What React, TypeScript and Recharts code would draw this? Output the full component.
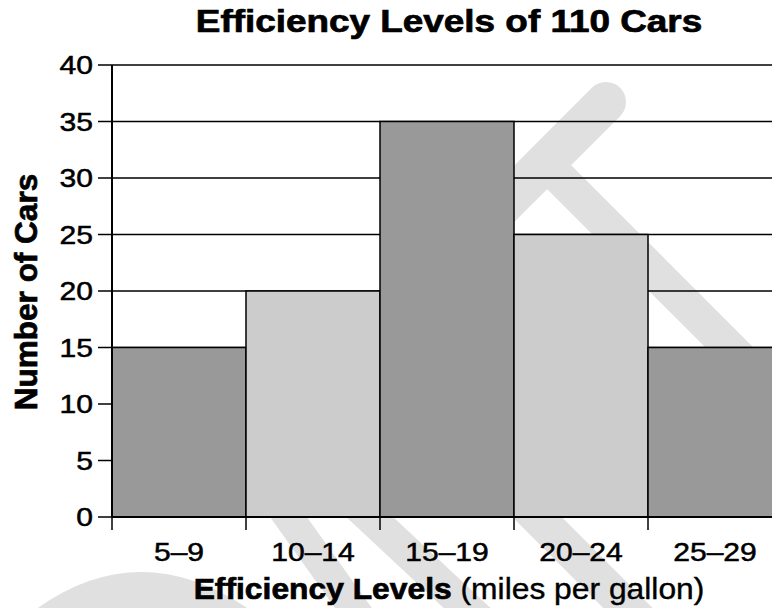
import React from "react"
import { Bar, BarChart, CartesianGrid, Cell, XAxis, YAxis } from "recharts"

const ranges = ["5–9", "10–14", "15–19", "20–24", "25–29"]
const carCounts = [15, 20, 35, 25, 15]
const yTicks = [0, 5, 10, 15, 20, 25, 30, 35, 40]

const data = ranges.map((range, i) => ({ range, cars: carCounts[i] }))

const FONT = "'Liberation Sans', Arial, Helvetica, sans-serif"
const DARK = "#999999"
const LIGHT = "#cccccc"
const MARK = "#e0e0e0"

const CHART_W = 790
const CHART_H = 608
const MARGIN = { top: 65, right: 8, bottom: 0, left: 0 }
const Y_AXIS_W = 112
const X_AXIS_H = 91
const X_TICK = 13
const BAND_HALF = (CHART_W - MARGIN.left - MARGIN.right - Y_AXIS_W) / ranges.length / 2

function YTick({ x, y, payload }: any) {
  return (
    <text
      transform={`translate(${x},${y + 9}) scale(1.18,1)`}
      textAnchor="end"
      fontFamily={FONT}
      fontSize={25.5}
      fill="#000"
      stroke="#000"
      strokeWidth={0.5}
    >
      {payload.value}
    </text>
  )
}

function XTick({ x, y, payload }: any) {
  const half = payload.offset || BAND_HALF
  const axisY = y - X_TICK
  return (
    <g>
      <line x1={x - half} x2={x - half} y1={axisY} y2={axisY + X_TICK} stroke="#000" strokeWidth={1.5} />
      <text
        transform={`translate(${x},${axisY + 44}) scale(1.18,1)`}
        textAnchor="middle"
        fontFamily={FONT}
        fontSize={25.5}
        fill="#000"
        stroke="#000"
        strokeWidth={0.5}
      >
        {payload.value}
      </text>
    </g>
  )
}

// faint watermark + titles, drawn under the (transparent) chart svg
function Backdrop() {
  return (
    <svg width={772} height={608} style={{ position: "absolute", left: 0, top: 0 }}>
      <g stroke={MARK} fill="none">
        <line x1={606} y1={102} x2={300} y2={408} strokeWidth={40} strokeLinecap="round" />
        <line x1={545} y1={163} x2={800} y2={418} strokeWidth={34} />
        <line x1={262} y1={480} x2={362} y2={620} strokeWidth={30} />
        <line x1={330} y1={480} x2={480} y2={620} strokeWidth={32} />
        <line x1={500} y1={480} x2={640} y2={620} strokeWidth={35} />
        <path d="M 45 625 Q 140 555 240 625" strokeWidth={36} />
      </g>
      <text
        transform="translate(449,32) scale(1.19,1)"
        textAnchor="middle"
        fontFamily={FONT}
        fontWeight="bold"
        fontSize={31}
        fill="#000"
        stroke="#000"
        strokeWidth={0.7}
      >
        Efficiency Levels of 110 Cars
      </text>
      <text
        transform="translate(37,292) rotate(-90)"
        textAnchor="middle"
        fontFamily={FONT}
        fontWeight="bold"
        fontSize={31.5}
        fill="#000"
        stroke="#000"
        strokeWidth={0.7}
      >
        Number of Cars
      </text>
      <text
        transform="translate(449,599) scale(1.06,1)"
        textAnchor="middle"
        fontFamily={FONT}
        fontSize={30}
        fill="#000"
        style={{ whiteSpace: "pre" }}
      >
        <tspan fontWeight="bold" stroke="#000" strokeWidth={0.7}>Efficiency Levels</tspan>
        <tspan stroke="#000" strokeWidth={0.4}> (miles per gallon)</tspan>
      </text>
    </svg>
  )
}

export default function App() {
  return (
    <div style={{ position: "fixed", left: 0, top: 0, width: 772, height: 608, overflow: "hidden", background: "#fff" }}>
      <Backdrop />
      <div style={{ position: "absolute", left: 0, top: 0 }}>
        <BarChart width={CHART_W} height={CHART_H} data={data} margin={MARGIN} barCategoryGap={0}>
          <CartesianGrid vertical={false} stroke="#000" strokeWidth={1.3} />
          <XAxis
            dataKey="range"
            interval={0}
            height={X_AXIS_H}
            tickLine={false}
            tickSize={X_TICK}
            tickMargin={0}
            axisLine={{ stroke: "#000", strokeWidth: 2 }}
            tick={<XTick />}
          />
          <YAxis
            domain={[0, 40]}
            ticks={yTicks}
            width={Y_AXIS_W}
            tickSize={14}
            tickMargin={5}
            interval={0}
            axisLine={{ stroke: "#000", strokeWidth: 2 }}
            tickLine={{ stroke: "#000", strokeWidth: 1.5 }}
            tick={<YTick />}
          />
          <Bar dataKey="cars" stroke="#000" strokeWidth={1.5} isAnimationActive={false}>
            {data.map((d, i) => (
              <Cell key={d.range} fill={i % 2 === 0 ? DARK : LIGHT} />
            ))}
          </Bar>
        </BarChart>
      </div>
    </div>
  )
}
